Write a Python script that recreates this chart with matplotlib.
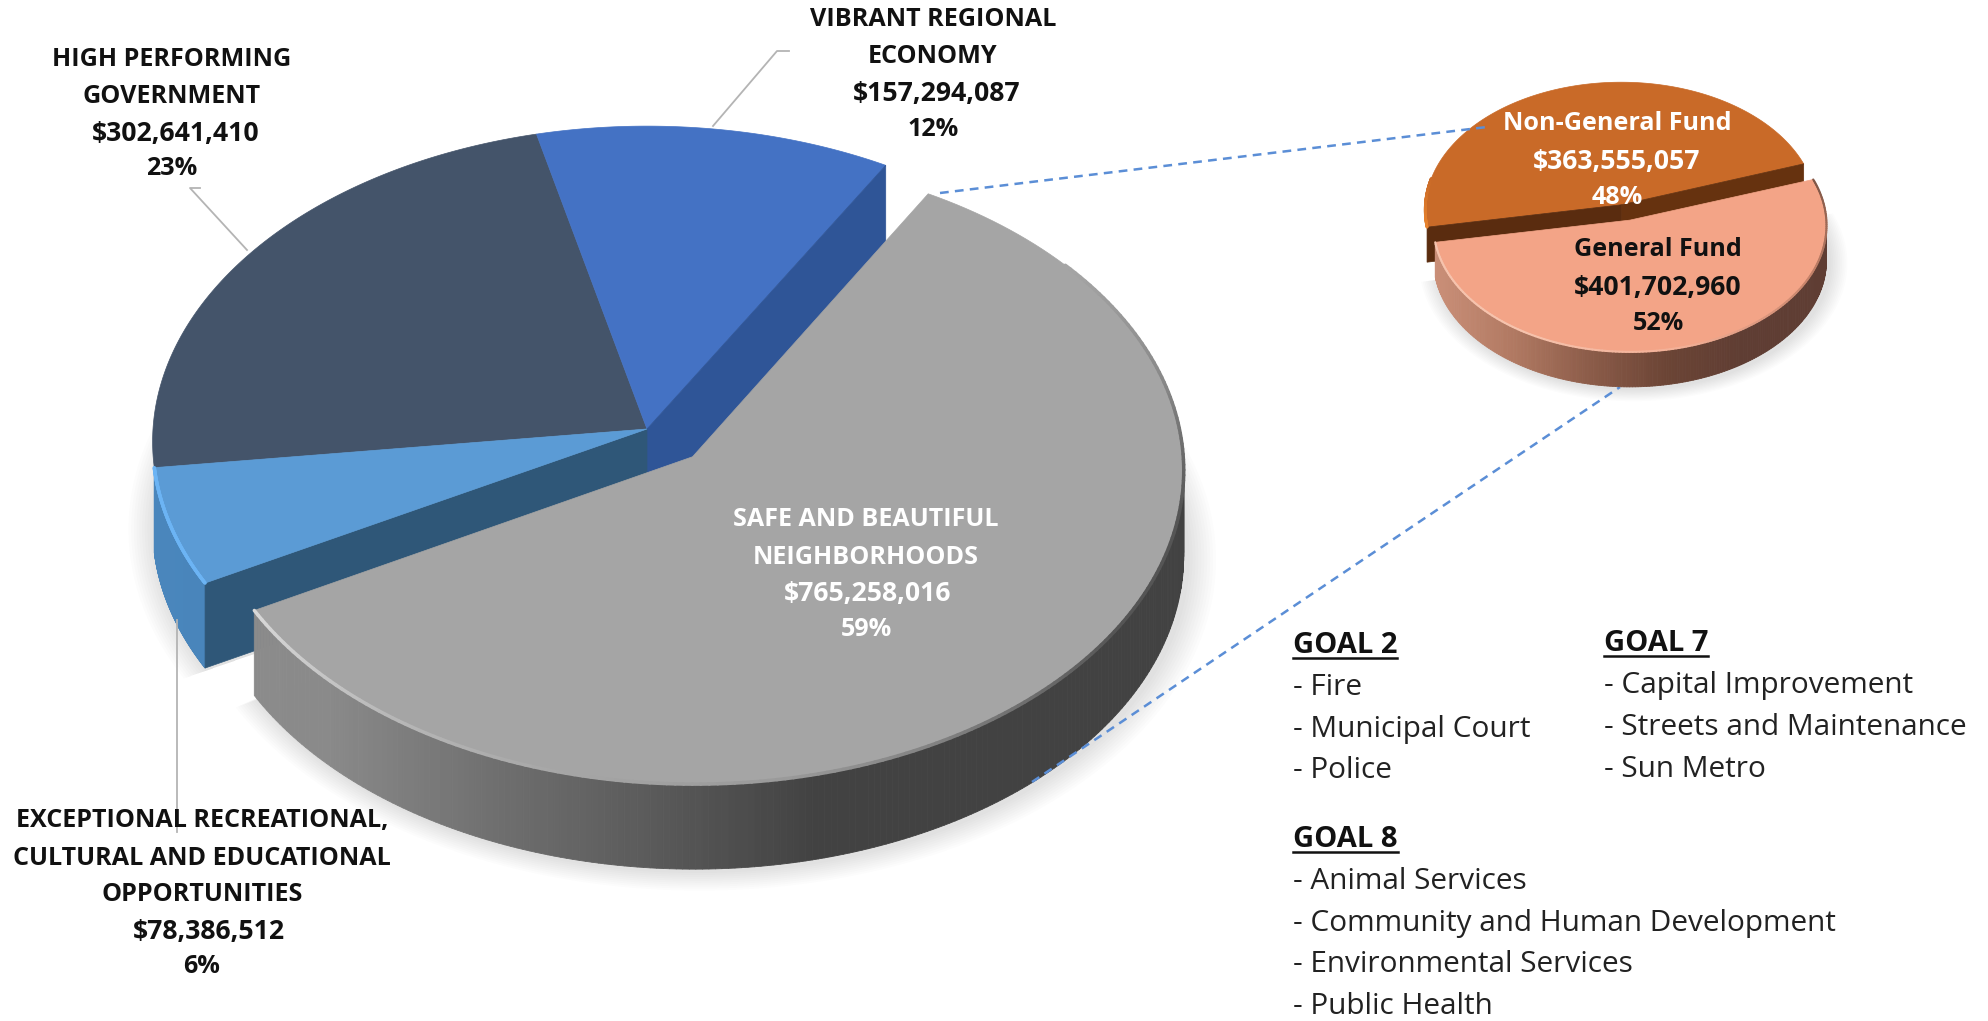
import numpy as np
import matplotlib
matplotlib.use('Agg')
import matplotlib.pyplot as plt
from matplotlib.patches import Polygon
from matplotlib.collections import PolyCollection, LineCollection
from matplotlib.colors import LinearSegmentedColormap

# Main pie, counter-clockwise from the upper right
main_names = ['VIBRANT REGIONAL ECONOMY', 'HIGH PERFORMING GOVERNMENT',
              'EXCEPTIONAL RECREATIONAL, CULTURAL AND EDUCATIONAL OPPORTUNITIES',
              'SAFE AND BEAUTIFUL NEIGHBORHOODS']
main_values = [157294087, 302641410, 78386512, 765258016]
main_colors = ['#4472c4', '#44546a', '#5b9bd5', '#a5a5a5']

# Small pie
small_names = ['Non-General Fund', 'General Fund']
small_values = [363555057, 401702960]
small_colors = ['#c96a28', '#f3a487']

goal2_items = ['- Fire', '- Municipal Court', '- Police']
goal7_items = ['- Capital Improvement', '- Streets and Maintenance', '- Sun Metro']
goal8_items = ['- Animal Services', '- Community and Human Development',
               '- Environmental Services', '- Public Health']

W, H = 1988, 1021
fig = plt.figure(figsize=(W / 100, H / 100), dpi=100)
ax = fig.add_axes([0, 0, 1, 1])
ax.set_xlim(0, W)
ax.set_ylim(H, 0)
ax.axis('off')

PERSP = 0.04


def project(pie, ux, uy):
    # unit disk -> picture, far side a little smaller
    s = 1 / (1 + PERSP * uy)
    return pie['cx'] + pie['a'] * ux * s, pie['cy'] - pie['b'] * uy * s


def angles(values, start):
    frac = np.array(values) / sum(values) * 360
    edges = start + np.concatenate([[0], np.cumsum(frac)])
    return list(zip(edges[:-1], edges[1:]))


def offset(t1, t2, e):
    mid = np.radians((t1 + t2) / 2)
    return e * np.cos(mid), e * np.sin(mid)


def rim(pie, t1, t2, off, n=160):
    t = np.radians(np.linspace(t1, t2, n))
    return project(pie, off[0] + np.cos(t), off[1] + np.sin(t))


def top_face(pie, t1, t2, off, color, z):
    x, y = rim(pie, t1, t2, off)
    ax0, ay0 = project(pie, off[0], off[1])
    pts = np.column_stack([np.r_[ax0, x], np.r_[ay0, y]])
    ax.add_patch(Polygon(pts, closed=True, fc=color, ec=color, lw=0.5, zorder=z))


def side_face(pie, t1, t2, off, stops, z):
    # outer wall, colour follows x
    x, y = rim(pie, t1, t2, off, n=240)
    d = pie['depth']
    cmap = LinearSegmentedColormap.from_list('side', stops)
    x0, x1 = pie['cx'] - pie['a'], pie['cx'] + pie['a']
    quads, cols = [], []
    for i in range(len(x) - 1):
        quads.append([(x[i], y[i]), (x[i + 1], y[i + 1]),
                      (x[i + 1], y[i + 1] + d), (x[i], y[i] + d)])
        cols.append(cmap((x[i] - x0) / (x1 - x0)))
    ax.add_collection(PolyCollection(quads, facecolors=cols, edgecolors=cols,
                                     linewidths=0.6, zorder=z))


def cut_face(pie, t, off, color, z):
    # flat wall from the apex out to the rim
    x0, y0 = project(pie, off[0], off[1])
    x1, y1 = project(pie, off[0] + np.cos(np.radians(t)), off[1] + np.sin(np.radians(t)))
    d = pie['depth']
    ax.add_patch(Polygon([(x0, y0), (x1, y1), (x1, y1 + d), (x0, y0 + d)], closed=True,
                         fc=color, ec=color, lw=0.5, zorder=z))


def bevel(pie, t1, t2, off, stops, lw, z):
    x, y = rim(pie, t1, t2, off, n=200)
    cmap = LinearSegmentedColormap.from_list('bevel', stops)
    segs = [[(x[i], y[i]), (x[i + 1], y[i + 1])] for i in range(len(x) - 1)]
    cols = [cmap(i / (len(x) - 2)) for i in range(len(x) - 1)]
    ax.add_collection(LineCollection(segs, colors=cols, linewidths=lw, zorder=z,
                                     capstyle='round'))


def shadow(pie, t1, t2, off, z, spread=0.0055):
    # soft shadow: stacked transparent copies of the lower outline
    for n in range(10, 0, -1):
        big = dict(pie, a=pie['a'] * (1 + spread * n), b=pie['b'] * (1 + spread * n))
        x, y = rim(big, t1, t2, off)
        ax0, ay0 = project(big, off[0], off[1])
        pts = np.column_stack([np.r_[ax0, x], np.r_[ay0, y]]) + [3, pie['depth'] + 2]
        ax.add_patch(Polygon(pts, closed=True, fc='black', ec='none', alpha=0.012, zorder=z))


# ---- main pie ----
pie1 = dict(cx=647, cy=429, a=494, b=315, depth=85)
pie1_gray = dict(pie1, cx=650, a=489, b=312)
(blue, navy, light, gray) = angles(main_values, 60)
zero = (0, 0)
gray_off = offset(gray[0], gray[1], 0.124)

shadow(pie1, 150, light[1], zero, 1)
shadow(pie1_gray, gray[0], gray[1], gray_off, 1)

top_face(pie1, navy[0], navy[1], zero, main_colors[1], 3)
top_face(pie1, blue[0], blue[1], zero, main_colors[0], 3)
cut_face(pie1, blue[0], zero, '#2f5597', 3)
side_face(pie1, light[0], light[1], zero, ['#4a86bc', '#3f7db3', '#3f7db3'], 3)
cut_face(pie1, light[1], zero, '#2f5778', 3)
top_face(pie1, light[0], light[1], zero, main_colors[2], 4)
bevel(pie1, light[0], light[1], zero, ['#6cb4f4', '#6cb4f4'], 2.5, 4)

side_face(pie1_gray, gray[0], gray[0] + 175, gray_off,
          ['#8c8c8c', '#8a8a8a', '#707070', '#5a5a5a', '#424242', '#424242', '#424242'], 5)
top_face(pie1_gray, gray[0], gray[1], gray_off, main_colors[3], 6)
bevel(pie1_gray, gray[0], gray[0] + 190, gray_off,
      ['#d8d8d8', '#b8b8b8', '#a5a5a5', '#9a9a9a', '#7a7a7a', '#555555', '#555555',
       '#888888', '#a5a5a5'], 2.5, 6)

# ---- small pie ----
pie2 = dict(cx=1627.5, cy=211, a=196, b=128, depth=35)
pie2_orange = dict(pie2, cx=1623.5)
pie2_pink = dict(pie2, cy=214, b=126)
(orange, pink) = angles(small_values, 19)
or_off = offset(orange[0], orange[1], 0.05)
pk_off = offset(pink[0], pink[1], 0.05)

shadow(pie2_pink, pink[0], pink[1], pk_off, 7, spread=0.009)
top_face(pie2_orange, orange[0], orange[1], or_off, small_colors[0], 8)
cut_face(pie2_orange, orange[0], or_off, '#66320f', 8)
cut_face(pie2_orange, orange[1], or_off, '#5a2c0f', 8)
bevel(pie2_orange, orange[1] - 22, orange[1], or_off, ['#c96a28', '#e8832e'], 2, 8)
side_face(pie2_pink, pink[0], pink[1], pk_off,
          ['#cb9079', '#b27a63', '#8c5c49', '#6b4435', '#5f3d33', '#5f3d33'], 9)
top_face(pie2_pink, pink[0], pink[1], pk_off, small_colors[1], 10)
bevel(pie2_pink, pink[0], pink[1], pk_off,
      ['#f6c3ad', '#f6c3ad', '#f3b097', '#c9856c', '#7f5646'], 1.5, 10)

# ---- leaders and connectors ----
ax.plot([713, 777, 789], [126, 51, 51], color='#b4b4b4', lw=1.3, zorder=2)
ax.plot([247, 190, 200], [250, 188, 188], color='#b4b4b4', lw=1.3, zorder=2)
ax.plot([177, 177], [620, 832], color='#b4b4b4', lw=1.3, zorder=12)
ax.plot([940, 1487], [193, 127], color='#5b8ed6', lw=1.8, ls=(0, (3.5, 2.5)), zorder=9)
ax.plot([1032, 1620], [782, 387], color='#5b8ed6', lw=1.8, ls=(0, (3.5, 2.5)), zorder=7)

# ---- labels ----
FONT = 'Open Sans'


def label(x, ys, lines, color='#111111', money_dx=0):
    for y, line in zip(ys, lines):
        # Open Sans digits run narrower than the original face
        is_money = line[0] == '$'
        ax.text(x + (money_dx if is_money else 0), y + 1.5, line, ha='center', va='center',
                family=FONT, weight='bold', fontsize=19.2 if is_money else 18.1,
                color=color, zorder=15)


label(933, [18, 55, 92, 128], ['VIBRANT REGIONAL', 'ECONOMY', '$157,294,087', '12%'], money_dx=4)
label(172, [58, 95, 132, 167], ['HIGH PERFORMING', 'GOVERNMENT', '$302,641,410', '23%'], money_dx=4)
label(866, [518, 556, 592, 628], ['SAFE AND BEAUTIFUL', 'NEIGHBORHOODS', '$765,258,016', '59%'],
      color='white', money_dx=2)
label(202, [819, 857, 893, 965],
      ['EXCEPTIONAL RECREATIONAL,', 'CULTURAL AND EDUCATIONAL', 'OPPORTUNITIES', '6%'])
label(209, [930], ['$78,386,512'])
label(1617, [122, 160, 196], ['Non-General Fund', '$363,555,057', '48%'], color='white')
label(1658, [248, 286, 322], ['General Fund', '$401,702,960', '52%'])


def goal(x, y_head, title, items, y_items):
    t = ax.text(x, y_head + 2, title, ha='left', va='center', family=FONT, weight='bold',
                fontsize=21, color='#111111', zorder=15)
    box = t.get_window_extent(fig.canvas.get_renderer())
    ax.plot([x, x + box.width], [y_head + 15, y_head + 15], color='#111111', lw=1.8, zorder=15)
    for y, item in zip(y_items, items):
        ax.text(x, y + 2, item, ha='left', va='center', family=FONT, fontsize=21.45,
                color='#222222', zorder=15)


goal(1293, 643, 'GOAL 2', goal2_items, [685, 727, 768])
goal(1604, 641, 'GOAL 7', goal7_items, [683, 725, 767])
goal(1293, 837, 'GOAL 8', goal8_items, [879, 921, 962, 1004])

fig.savefig('out.png', dpi=100, facecolor='white')
